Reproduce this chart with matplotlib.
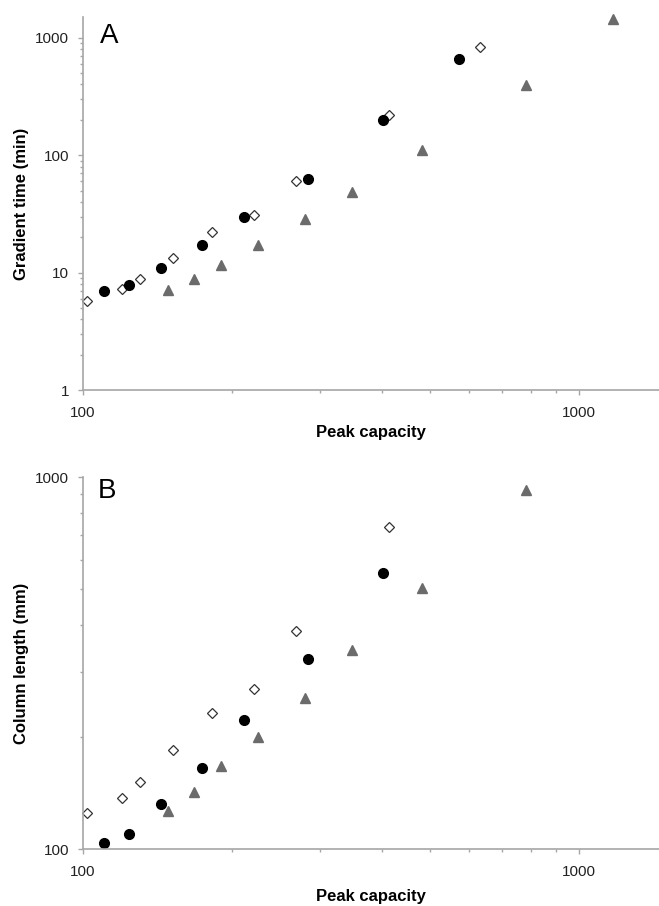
import matplotlib
matplotlib.use("Agg")
import matplotlib.pyplot as plt
from matplotlib.ticker import LogLocator, FixedLocator, FixedFormatter, NullFormatter

plt.rcParams['font.family'] = ['Liberation Sans', 'DejaVu Sans']

# Panel A: gradient time (min) vs peak capacity
a_diamond_x = [102, 120, 130, 152, 182, 221, 269, 414, 632]
a_diamond_y = [5.7, 7.3, 8.9, 13.3, 22.2, 30.7, 60.7, 219, 839]
a_circle_x = [110, 124, 143.5, 174, 211, 284, 402, 574]
a_circle_y = [7.0, 7.9, 10.9, 17.3, 29.8, 63.2, 200, 663]
a_tri_x = [148.6, 167.6, 190, 225, 280, 348, 483, 783, 1170]
a_tri_y = [7.1, 8.8, 11.5, 17.2, 28.6, 48.6, 111, 395, 1456]

# Panel B: column length (mm) vs peak capacity
b_diamond_x = [102, 120, 130, 152, 182, 221, 269, 414]
b_diamond_y = [125, 137, 151, 185, 232, 270, 385, 736]
b_circle_x = [110, 124, 143.5, 174, 211, 284, 402]
b_circle_y = [103.6, 110, 132, 165, 222, 324, 553]
b_tri_x = [148.6, 167.6, 190, 225, 280, 348, 483, 783]
b_tri_y = [126.5, 142.6, 167, 200, 255, 344, 505, 925]

x_ticks = [100, 1000]
a_yticks = [1, 10, 100, 1000]
b_yticks = [100, 1000]

tri_color = '#6b6b6b'
spine_color = '#a6a6a6'

fig = plt.figure(figsize=(6.59, 9.06), dpi=100)
axA = fig.add_axes([0.126, 0.5695, 0.874, 0.4117])
axB = fig.add_axes([0.126, 0.0629, 0.874, 0.4103])


def style(ax, yticks, ylabel, letter, letter_x, letter_y, xlabel_y):
    ax.set_xscale('log')
    ax.set_yscale('log')
    for s in ['top', 'right']:
        ax.spines[s].set_visible(False)
    for s in ['left', 'bottom']:
        ax.spines[s].set_color(spine_color)
        ax.spines[s].set_linewidth(1.2)
    ax.xaxis.set_major_locator(FixedLocator(x_ticks))
    ax.xaxis.set_major_formatter(FixedFormatter([str(t) for t in x_ticks]))
    ax.xaxis.set_minor_locator(LogLocator(base=10, subs=range(2, 10)))
    ax.xaxis.set_minor_formatter(NullFormatter())
    ax.yaxis.set_major_locator(FixedLocator(yticks))
    ax.yaxis.set_major_formatter(FixedFormatter([str(t) for t in yticks]))
    ax.yaxis.set_minor_locator(LogLocator(base=10, subs=range(2, 10)))
    ax.yaxis.set_minor_formatter(NullFormatter())
    ax.tick_params(which='both', direction='out', color=spine_color, width=1,
                   labelsize=11, labelcolor='#222222')
    ax.tick_params(which='major', length=3.5)
    ax.tick_params(axis='y', which='major', pad=6.5)
    ax.tick_params(axis='x', which='major', pad=8)
    ax.tick_params(which='minor', length=2.5)
    ax.set_xlabel('Peak capacity', fontsize=12, fontweight='bold', va='center')
    ax.xaxis.set_label_coords(0.5, xlabel_y)
    ax.set_ylabel(ylabel, fontsize=12, fontweight='bold', va='center')
    ax.yaxis.set_label_coords(-0.106, 0.5)
    ax.text(letter_x, letter_y, letter, transform=ax.transAxes, fontsize=20,
            va='top', ha='left')


def draw(ax, dx, dy, cx, cy, tx, ty):
    ax.plot(dx, dy, linestyle='none', marker='D', markersize=5,
            markerfacecolor='white', markeredgecolor='#333333', markeredgewidth=0.9,
            clip_on=False)
    ax.plot(cx, cy, linestyle='none', marker='o', markersize=7,
            color='black', clip_on=False)
    ax.plot(tx, ty, linestyle='none', marker='^', markersize=7.5,
            color=tri_color, clip_on=False)


draw(axA, a_diamond_x, a_diamond_y, a_circle_x, a_circle_y, a_tri_x, a_tri_y)
style(axA, a_yticks, 'Gradient time (min)', 'A', 0.03, 0.984, -0.115)
axA.set_xlim(100, 1450)
axA.set_ylim(1, 1500)

draw(axB, b_diamond_x, b_diamond_y, b_circle_x, b_circle_y, b_tri_x, b_tri_y)
style(axB, b_yticks, 'Column length (mm)', 'B', 0.025, 0.998, -0.128)
axB.set_xlim(100, 1450)
axB.set_ylim(100, 1000)

fig.savefig('out.png', dpi=100)
